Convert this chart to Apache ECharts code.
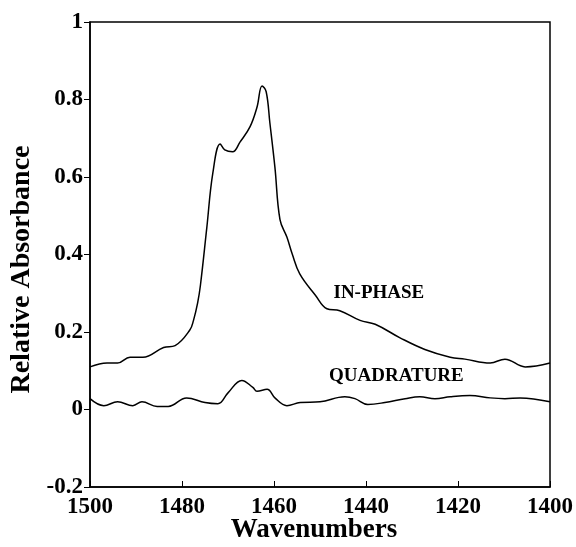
<!DOCTYPE html>
<html>
<head>
<meta charset="utf-8">
<script src="https://cdn.jsdelivr.net/npm/echarts@6/dist/echarts.min.js"></script>
<style>
  html, body { margin: 0; padding: 0; background: #fff; }
  #chart { width: 576px; height: 547px; }
</style>
</head>
<body>
<div id="chart"></div>
<script>
  // wavenumber / absorbance pairs
  const inPhaseX = [1500, 1496.3, 1494, 1491.3, 1488.5, 1484, 1481.5, 1478.3, 1477.5, 1476.6, 1476, 1474.6, 1473.3, 1471.7, 1470.7, 1469,
    1467.4, 1465.2, 1463.7, 1462.6, 1461.7, 1460.9, 1459.8, 1458.7, 1457.2, 1456, 1454.4, 1451, 1448.5, 1445.7, 1441.3,
    1438, 1432.6, 1427.2, 1421.7, 1418.5, 1413, 1409.8, 1405.4, 1400]
  const inPhaseY = [0.11, 0.12, 0.12, 0.135, 0.135, 0.16, 0.165, 0.205, 0.23, 0.275, 0.32, 0.47, 0.61, 0.685, 0.67, 0.665,
    0.69, 0.73, 0.78, 0.835, 0.82, 0.74, 0.625, 0.49, 0.445, 0.40, 0.35, 0.295, 0.26, 0.255, 0.23,
    0.22, 0.185, 0.155, 0.135, 0.13, 0.12, 0.13, 0.11, 0.12]

  const quadX = [1500, 1497, 1494, 1490.7, 1488.7, 1485.4, 1483, 1479, 1475, 1472.2, 1470, 1467, 1464.6, 1463.7, 1461.5,
    1459.8, 1457.2, 1454.3, 1450, 1444.6, 1442.4, 1439.6, 1435.9, 1431.5, 1428.3, 1425, 1421.7, 1417.4, 1413, 1409.8,
    1406.5, 1400]
  const quadY = [0.028, 0.01, 0.02, 0.01, 0.02, 0.008, 0.008, 0.03, 0.018, 0.015, 0.043, 0.075, 0.057, 0.047, 0.052,
    0.03, 0.01, 0.018, 0.02, 0.033, 0.028, 0.013, 0.018, 0.028, 0.033, 0.028, 0.033, 0.036, 0.03, 0.028,
    0.03, 0.02]

  const seriesNames = ['IN-PHASE', 'QUADRATURE']
  // where the curve labels sit, in data units
  const labelAt = [[1437.2, 0.30], [1433.4, 0.085]]

  function pairs(xs, ys) {
    return xs.map((x, i) => [x, ys[i]])
  }

  const myChart = echarts.init(document.getElementById('chart'))
  const font = 'Liberation Serif'

  function curve(i, xs, ys) {
    return {
      name: seriesNames[i],
      type: 'line',
      smooth: 0.4,
      symbol: 'none',
      lineStyle: { color: '#000', width: 1.5 },
      data: pairs(xs, ys),
      markPoint: {
        symbol: 'circle',
        symbolSize: 1,
        itemStyle: { color: 'rgba(0,0,0,0)' },
        label: {
          show: true, position: 'inside', formatter: seriesNames[i],
          color: '#000', fontFamily: font, fontWeight: 'bold', fontSize: 19
        },
        data: [{ coord: labelAt[i] }]
      }
    }
  }

  let option = {
    backgroundColor: '#fff',
    animation: false,
    grid: {
      left: 90, right: 26, top: 22, bottom: 60,
      outerBoundsMode: 'none',
      show: true, borderColor: '#000', borderWidth: 1.5
    },
    xAxis: {
      type: 'value',
      inverse: true,
      min: 1400, max: 1500, interval: 20,
      name: 'Wavenumbers',
      nameLocation: 'middle',
      nameGap: 30,
      nameMoveOverlap: false,
      nameTextStyle: { color: '#000', fontFamily: font, fontWeight: 'bold', fontSize: 27, padding: [0, 12, 0, 0] },
      axisLine: { onZero: false, lineStyle: { color: '#000', width: 1.5 } },
      axisTick: { inside: true, length: 6, lineStyle: { color: '#000' } },
      axisLabel: { color: '#000', fontFamily: font, fontWeight: 'bold', fontSize: 23, margin: 9,
        formatter: v => String(v) },
      splitLine: { show: false }
    },
    yAxis: {
      type: 'value',
      min: -0.2, max: 1, interval: 0.2,
      name: 'Relative Absorbance',
      nameLocation: 'middle',
      nameGap: 54,
      nameMoveOverlap: false,
      nameTextStyle: { color: '#000', fontFamily: font, fontWeight: 'bold', fontSize: 28, padding: [0, 30, 0, 0] },
      axisLine: { show: true, lineStyle: { color: '#000', width: 1.5 } },
      axisTick: { show: true, length: 6, lineStyle: { color: '#000' } },
      axisLabel: { color: '#000', fontFamily: font, fontWeight: 'bold', fontSize: 23, margin: 7 },
      splitLine: { show: false }
    },
    series: [
      curve(0, inPhaseX, inPhaseY),
      curve(1, quadX, quadY)
    ]
  }

  option && myChart.setOption(option)
</script>
</body>
</html>
